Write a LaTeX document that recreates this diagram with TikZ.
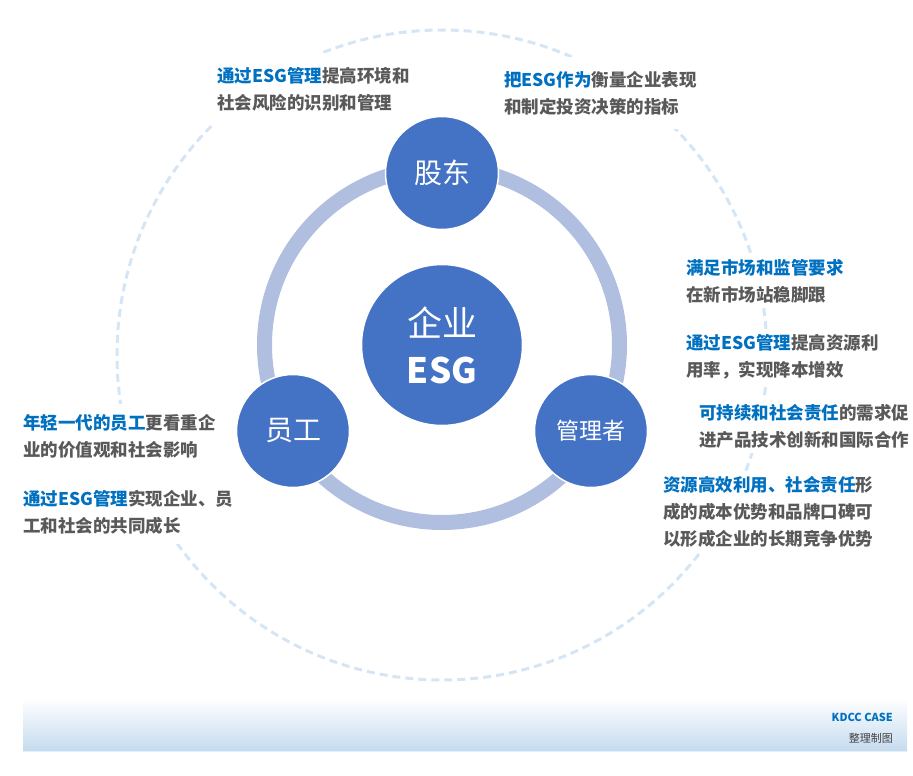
\documentclass[tikz,border=0pt]{standalone}
\usepackage{fontspec}
\setmainfont{Noto Sans CJK SC}
\definecolor{esgblue}{HTML}{0070C0}
\definecolor{txtgray}{HTML}{595959}
\definecolor{disc}{HTML}{4472C4}
\definecolor{ringc}{HTML}{B0BEDF}
\definecolor{dashc}{HTML}{D4E6F6}
\definecolor{bandc}{HTML}{C5DBEF}
\newcommand\hl[1]{\textcolor{esgblue}{#1}}

\begin{document}
\begin{tikzpicture}[x=1pt,y=-1pt]
\tikzset{note/.style={fill=white, align=left, anchor=north west, inner xsep=6pt, inner ysep=5pt,
    text=txtgray, font=\fontsize{17.5}{27}\selectfont\bfseries},
  hub/.style={circle, fill=disc, draw=white, line width=1.5pt, text=white, align=center},
  party/.style={hub, minimum size=113pt, inner sep=0pt}}
\useasboundingbox (0,0) rectangle (913,776);
% outer dashed circle
\coordinate (O) at (442,355);
\draw[dashc, line width=3pt, dash pattern=on 8pt off 5pt] (O) circle[radius=325pt];
% texts
\node[note, inner ysep=14pt] (t1) at (211,53) {\hl{通过ESG管理}提高环境和\\社会风险的识别和管理};
\node[note, inner ysep=14pt] (t2) at (498,57) {\hl{把ESG作为}衡量企业表现\\和制定投资决策的指标};
\node[note] (r1) at (680,254) {\hl{满足市场和监管要求}\\在新市场站稳脚跟};
\node[note] (r2) at (680,329) {\hl{通过ESG管理}提高资源利\\用率，实现降本增效};
\node[note] (r3) at (693,399) {\hl{可持续和社会责任}的需求促\\进产品技术创新和国际合作};
\node[note] (r4) at (657,471) {\hl{资源高效利用、社会责任}形\\成的成本优势和品牌口碑可\\以形成企业的长期竞争优势};
\node[note, inner ysep=10pt] (l1) at (17,404) {\hl{年轻一代的员工}更看重企\\业的价值观和社会影响\\[22pt]\hl{通过ESG管理}实现企业、员\\工和社会的共同成长};
% ring and circles
\coordinate (C) at (442,345);
\draw[ringc, line width=15pt] (C) circle[radius=177.5pt];
\node[hub, minimum size=161pt, font=\fontsize{35}{47}\selectfont] (esg) at (C) {企业\\\bfseries ESG};
\node[party, font=\fontsize{28}{30}\selectfont] (gd) at (442,173) {股东};
\node[party, font=\fontsize{28}{30}\selectfont] (yg) at (293,431) {员工};
\node[party, font=\fontsize{23}{26}\selectfont] (gl) at (591,431) {管理者};
% bottom band
\shade[top color=white, bottom color=bandc] (23,698) rectangle (907,751);
\draw[dashc!60, line width=1pt] (23,751) -- (907,751);
\node[anchor=east, inner sep=0pt, text=esgblue, font=\fontsize{11}{13}\selectfont\bfseries] (src) at (893,717) {KDCC CASE};
\node[anchor=east, inner sep=0pt, text=black!75, font=\fontsize{11}{13}\selectfont] (src2) at (893,738) {整理制图};
\end{tikzpicture}
\end{document}
